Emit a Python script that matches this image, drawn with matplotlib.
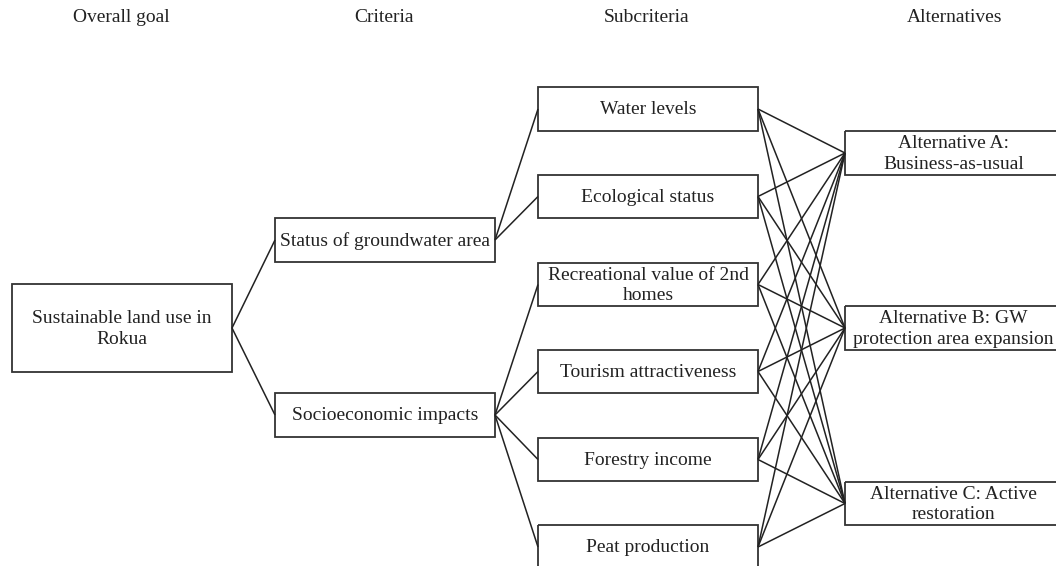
import matplotlib
matplotlib.use("Agg")
import matplotlib.pyplot as plt
from matplotlib.patches import Rectangle

plt.rcParams['font.family'] = ['Liberation Serif', 'DejaVu Serif']

# level headers
headers = ["Overall goal", "Criteria", "Subcriteria", "Alternatives"]
header_x = [121, 384, 647, 955]

# nodes of the hierarchy
goal = ["Sustainable land use in\nRokua"]
criteria = ["Status of groundwater area", "Socioeconomic impacts"]
subcriteria = ["Water levels", "Ecological status", "Recreational value of 2nd\nhomes",
               "Tourism attractiveness", "Forestry income", "Peat production"]
sub_parent = [0, 0, 1, 1, 1, 1]
alternatives = ["Alternative A:\nBusiness-as-usual",
                "Alternative B: GW\nprotection area expansion",
                "Alternative C: Active\nrestoration"]

# layout in pixels (x0, x1, list of (top, bottom))
goal_box = (12, 232, [(284, 372)])
crit_box = (275, 495, [(218, 262), (393, 437)])
sub_box = (538, 758, [(87, 131), (175, 218), (263, 306), (350, 393), (438, 481), (525, 569)])
alt_box = (845, 1062, [(131, 175), (306, 350), (482, 525)])

fig = plt.figure(figsize=(10.56, 5.66), dpi=100)
ax = fig.add_axes([0, 0, 1, 1])
ax.set_xlim(0, 1056)
ax.set_ylim(566, 0)
ax.axis('off')

edge = '#333333'
fs = 14


def draw_boxes(layout, labels):
    x0, x1, rows = layout
    for (t, b), lab in zip(rows, labels):
        ax.add_patch(Rectangle((x0, t), x1 - x0, b - t, fill=False,
                               edgecolor=edge, linewidth=1.3, clip_on=False))
        ax.text((x0 + x1) / 2, (t + b) / 2 + 1, lab, ha='center', va='center',
                fontsize=fs, color='#222222', linespacing=1.28)


def mid(layout, i):
    return (layout[2][i][0] + layout[2][i][1]) / 2


def link(a, ia, b, ib):
    ax.plot([a[1], b[0]], [mid(a, ia), mid(b, ib)], color='#222222',
            linewidth=1.1, solid_capstyle='butt')


for i in range(len(criteria)):
    link(goal_box, 0, crit_box, i)
for j, p in enumerate(sub_parent):
    link(crit_box, p, sub_box, j)
for j in range(len(subcriteria)):
    for k in range(len(alternatives)):
        link(sub_box, j, alt_box, k)

draw_boxes(goal_box, goal)
draw_boxes(crit_box, criteria)
draw_boxes(sub_box, subcriteria)
draw_boxes(alt_box, alternatives)

for h, x in zip(headers, header_x):
    ax.text(x, 17, h, ha='center', va='center', fontsize=fs, color='#222222')

fig.savefig("out.png", dpi=100, facecolor='white')
